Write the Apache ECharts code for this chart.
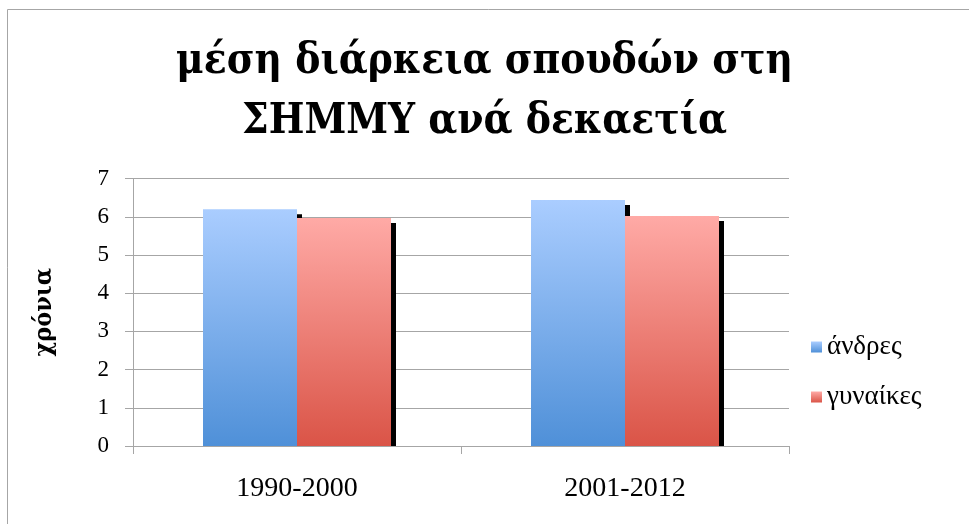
<!DOCTYPE html>
<html>
<head>
<meta charset="utf-8">
<script src="https://cdn.jsdelivr.net/npm/echarts@6/dist/echarts.min.js"></script>
<style>
  html, body { margin: 0; padding: 0; background: #fff; }
  #chart { width: 969px; height: 524px; }
</style>
</head>
<body>
<div id="chart"></div>
<script>
/** 数据 */
var titleText = 'μέση διάρκεια σπουδών στη\nΣΗΜΜΥ ανά δεκαετία'
var yName = 'χρόνια'
var categories = ['1990-2000', '2001-2012']
var seriesNames = ['άνδρες', 'γυναίκες']
var menValues = [6.2, 6.44]
var womenValues = [5.97, 6.02]

var FONT = '"Liberation Serif", "DejaVu Serif", serif'
var BOLD_FONT = '"DejaVu Serif Condensed", "DejaVu Serif", serif'

// 渐变色
var grad = function(top, bottom) {
	return new echarts.graphic.LinearGradient(0, 0, 0, 1, [
		{ offset: 0, color: top },
		{ offset: 1, color: bottom }
	])
}

var myChart = echarts.init(document.getElementById('chart'), null, { renderer: 'canvas' })

var barStyle = function(top, bottom) {
	return {
		color: grad(top, bottom),
		shadowColor: '#000',
		shadowBlur: 0,
		shadowOffsetX: 5,
		shadowOffsetY: 5
	}
}

var gridLeft = 133, gridRight = 180, gridTop = 178.6, gridBottom = 78

var option = {
	animation: false,
	backgroundColor: '#fff',
	title: {
		text: titleText,
		left: 'center',
		top: 27,
		textStyle: {
			fontFamily: BOLD_FONT,
			fontWeight: 'bold',
			fontSize: 42,
			lineHeight: 60,
			color: '#000'
		}
	},
	legend: {
		orient: 'vertical',
		left: 811,
		top: 332,
		padding: 0,
		icon: 'rect',
		itemWidth: 11,
		itemHeight: 11,
		itemGap: 20,
		textStyle: { fontFamily: FONT, fontSize: 27, lineHeight: 30, color: '#000' },
		data: seriesNames
	},
	grid: { left: gridLeft, right: gridRight, top: gridTop, bottom: gridBottom, containLabel: false },
	xAxis: {
		type: 'category',
		data: categories,
		z: 10,
		axisLine: { lineStyle: { color: '#a6a6a6', width: 1 } },
		axisTick: { show: true, length: 8, inside: false, lineStyle: { color: '#a6a6a6' } },
		axisLabel: { margin: 29, fontFamily: FONT, fontSize: 28, color: '#000' }
	},
	yAxis: {
		type: 'value',
		min: 0,
		max: 7,
		interval: 1,
		name: yName,
		nameLocation: 'middle',
		nameGap: 76,
		nameRotate: 90,
		nameTextStyle: { fontFamily: BOLD_FONT, fontWeight: 'bold', fontSize: 25, color: '#000' },
		axisLine: { show: true, lineStyle: { color: '#a6a6a6', width: 1 } },
		axisTick: { show: true, length: 8, lineStyle: { color: '#a6a6a6' } },
		axisLabel: { margin: 24, fontFamily: FONT, fontSize: 23, color: '#000' },
		splitLine: { lineStyle: { color: '#a6a6a6', width: 1 } }
	},
	series: [
		{
			name: seriesNames[0],
			type: 'bar',
			data: menValues,
			barWidth: 94,
			barGap: '0%',
			itemStyle: barStyle('#aacdff', '#4f90d8')
		},
		{
			name: seriesNames[1],
			type: 'bar',
			data: womenValues,
			barWidth: 94,
			barGap: '0%',
			itemStyle: barStyle('#ffaaa6', '#da5447')
		}
	],
	graphic: [
		// 外边框
		{
			type: 'rect',
			silent: true,
			shape: { x: 7.5, y: 9.5, width: 1200, height: 1200 },
			style: { fill: null, stroke: '#a6a6a6', lineWidth: 1 }
		},
		// 阴影在坐标轴以下被遮住
		{
			type: 'rect',
			silent: true,
			z: 5,
			shape: { x: gridLeft + 1, y: 524 - gridBottom + 1, width: 969 - gridLeft - gridRight - 2, height: 8 },
			style: { fill: '#fff' }
		}
	]
}

myChart.setOption(option)
</script>
</body>
</html>
